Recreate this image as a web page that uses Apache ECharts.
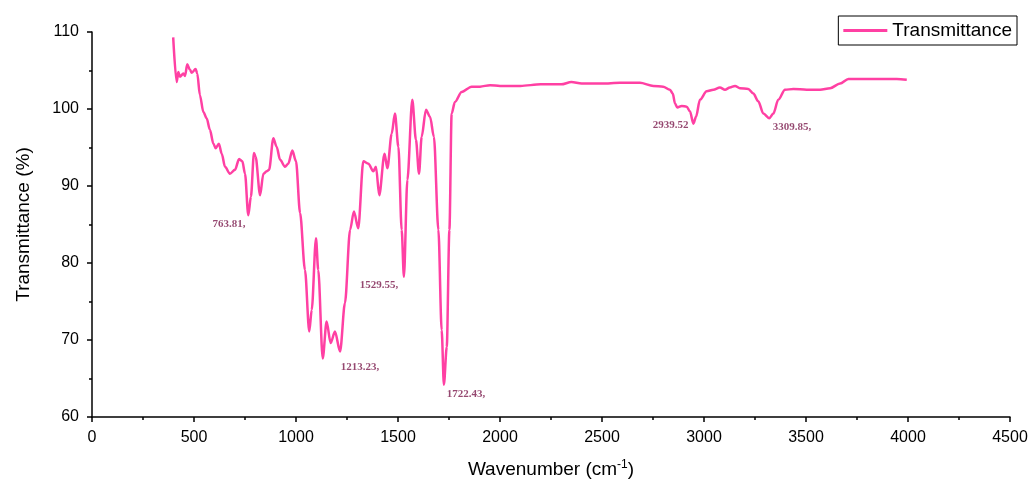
<!DOCTYPE html>
<html>
<head>
<meta charset="utf-8">
<script src="https://cdn.jsdelivr.net/npm/echarts@6/dist/echarts.min.js"></script>
<style>
  html, body { margin: 0; padding: 0; background: #fff; }
  #chart { width: 1030px; height: 482px; }
</style>
</head>
<body>
<div id="chart"></div>
<script>
// FTIR spectrum, values
const wavenumbers = [
  398, 415, 423, 431, 448, 456, 467, 480, 489, 508, 516, 529, 546, 562, 578, 595,
  606, 622, 636, 652, 676, 701, 721, 737, 750, 766, 779, 794, 802, 824, 840, 856,
  868, 889, 905, 922, 946, 962, 982, 1000, 1020, 1044, 1065, 1077, 1098, 1109, 1131, 1150,
  1170, 1191, 1216, 1240, 1265, 1284, 1305, 1330, 1355, 1379, 1392, 1408, 1434, 1448, 1469, 1485,
  1502, 1518, 1529, 1546, 1570, 1588, 1603, 1616, 1637, 1657, 1676, 1698, 1714, 1725, 1739, 1752,
  1763, 1779, 1812, 1861, 1902, 1951, 2000, 2100, 2200, 2300, 2350, 2400, 2500, 2588, 2686, 2752,
  2800, 2833, 2847, 2858, 2869, 2891, 2915, 2931, 2948, 2961, 2980, 3013, 3046, 3078, 3103, 3127,
  3152, 3176, 3217, 3242, 3266, 3291, 3320, 3340, 3364, 3397, 3438, 3503, 3569, 3618, 3667, 3708,
  3765, 3830, 3896, 3945, 3994
];
const transmittance = [
  109.3, 103.5, 104.8, 104.2, 104.6, 104.3, 105.8, 105.1, 104.7, 105.2, 104.6, 101.8, 99.6, 98.8, 97.3, 95.5,
  94.9, 95.5, 94.2, 92.5, 91.6, 92.1, 93.5, 93.2, 91.6, 86.2, 88.6, 94.3, 93.8, 88.8, 91.6, 91.9,
  92.1, 96.2, 95.1, 93.4, 92.5, 92.9, 94.6, 93.2, 86.5, 79.1, 71.1, 73.9, 83.2, 79.1, 67.6, 72.4,
  69.6, 71.1, 68.5, 74.8, 84.3, 86.7, 84.5, 93.2, 92.9, 91.9, 92.5, 88.8, 94.2, 92.3, 96.8, 99.4,
  95.1, 84.3, 78.2, 90.8, 101.2, 96.0, 91.6, 96.4, 99.9, 99.0, 96.4, 84.3, 71.3, 64.2, 69.1, 84.3,
  99.4, 100.9, 102.2, 102.9, 102.9, 103.1, 103.0, 103.0, 103.2, 103.2, 103.5, 103.3, 103.3, 103.4, 103.4, 103.0,
  102.9, 102.5, 102.0, 100.7, 100.2, 100.4, 100.3, 99.7, 98.1, 99.0, 101.2, 102.3, 102.5, 102.8, 102.5, 102.8,
  103.0, 102.7, 102.6, 102.0, 101.0, 99.4, 98.8, 99.4, 101.2, 102.5, 102.6, 102.5, 102.5, 102.7, 103.3, 103.9,
  103.9, 103.9, 103.9, 103.9, 103.8
];

// peak annotations: text and where the text sits (data units)
const peakLabels = ['763.81,', '1213.23,', '1529.55,', '1722.43,', '2939.52', '3309.85,'];
const peakLabelX = [672, 1314, 1407, 1833, 2836, 3431];
const peakLabelY = [85.1, 66.5, 77.1, 63.0, 97.9, 97.7];

const LINE_COLOR = '#ff40a3';
const AXIS_COLOR = '#000';
const FONT = 'Liberation Sans, Arial, sans-serif';

const chart = echarts.init(document.getElementById('chart'), null, { renderer: 'canvas' });

chart.setOption({
  backgroundColor: '#fff',
  animation: false,
  grid: { left: 92, right: 20, top: 32, bottom: 65, containLabel: false, outerBoundsMode: 'none' },
  legend: {
    data: [{ name: 'Transmittance', icon: 'rect' }],
    right: 13,
    top: 16,
    itemWidth: 44,
    itemHeight: 3,
    itemGap: 6,
    padding: [5, 5, 5, 5],
    borderColor: '#000',
    borderWidth: 1,
    borderRadius: 0,
    textStyle: { color: '#000', fontSize: 19, fontFamily: FONT }
  },
  xAxis: {
    type: 'value',
    min: 0,
    max: 4500,
    interval: 500,
    name: 'Wavenumber (cm{sup|-1})',
    nameLocation: 'middle',
    nameGap: 42,
    nameTextStyle: {
      color: '#000', fontSize: 19, fontFamily: FONT,
      rich: { sup: { fontSize: 12, verticalAlign: 'top', padding: [0, 0, 9, 0], fontFamily: FONT, color: '#000' } }
    },
    axisLine: { onZero: false, lineStyle: { color: AXIS_COLOR, width: 1.5 } },
    axisTick: { inside: false, length: 5, lineStyle: { color: AXIS_COLOR, width: 1.5 } },
    minorTick: { show: true, splitNumber: 2, length: 3, lineStyle: { color: AXIS_COLOR, width: 1.5 } },
    axisLabel: { color: '#000', fontSize: 16, fontFamily: FONT, margin: 13, formatter: v => String(v) },
    splitLine: { show: false }
  },
  yAxis: {
    type: 'value',
    min: 60,
    max: 110,
    interval: 10,
    name: 'Transmittance (%)',
    nameLocation: 'middle',
    nameGap: 59,
    nameTextStyle: { color: '#000', fontSize: 19, fontFamily: FONT },
    axisLine: { show: true, lineStyle: { color: AXIS_COLOR, width: 1.5 } },
    axisTick: { inside: false, length: 5, lineStyle: { color: AXIS_COLOR, width: 1.5 } },
    minorTick: { show: true, splitNumber: 2, length: 3, lineStyle: { color: AXIS_COLOR, width: 1.5 } },
    axisLabel: { color: '#000', fontSize: 16, fontFamily: FONT, margin: 13, formatter: v => String(v) },
    splitLine: { show: false }
  },
  series: [
    {
      name: 'Transmittance',
      type: 'line',
      data: wavenumbers.map((w, i) => [w, transmittance[i]]),
      showSymbol: false,
      symbol: 'none',
      smooth: 0.3,
      smoothMonotone: 'x',
      lineStyle: { color: LINE_COLOR, width: 2.5 },
      itemStyle: { color: LINE_COLOR },
      silent: true
    },
    {
      name: 'peaks',
      type: 'scatter',
      symbolSize: 0,
      silent: true,
      data: peakLabels.map((t, i) => ({ value: [peakLabelX[i], peakLabelY[i]], name: t })),
      label: {
        show: true,
        position: 'inside',
        formatter: p => p.name,
        color: '#7a1a4c',
        fontSize: 11,
        fontWeight: 'bold',
        fontFamily: 'Liberation Serif, Times New Roman, serif'
      }
    }
  ]
});
</script>
</body>
</html>
